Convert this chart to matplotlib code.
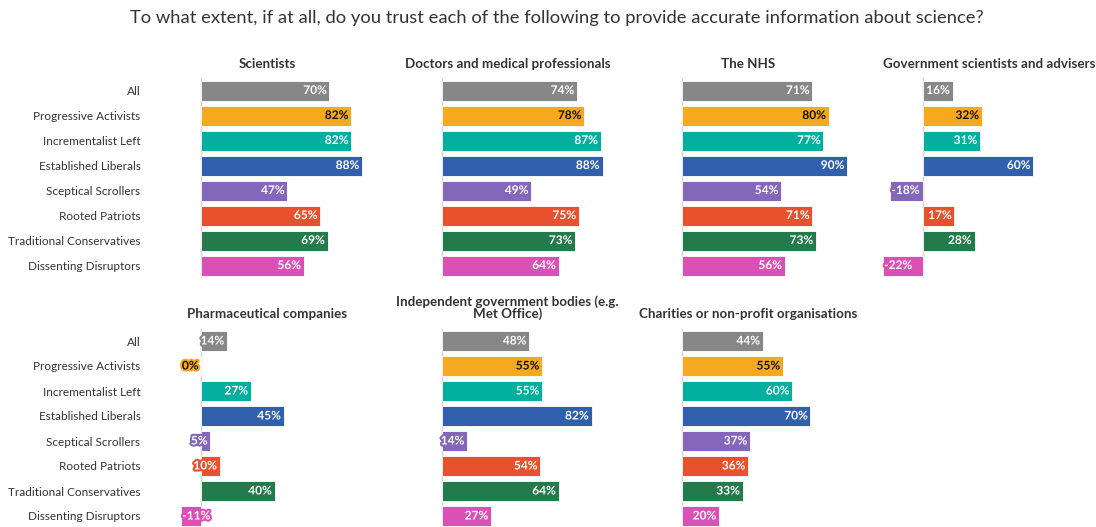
import matplotlib
matplotlib.use("Agg")
import matplotlib.pyplot as plt
import matplotlib.patheffects as pe
from matplotlib.transforms import blended_transform_factory

plt.rcParams['font.family'] = ['Lato', 'DejaVu Sans']

groups = ["All", "Progressive Activists", "Incrementalist Left", "Established Liberals",
          "Sceptical Scrollers", "Rooted Patriots", "Traditional Conservatives",
          "Dissenting Disruptors"]
colors = ["#878787", "#F6A81F", "#03AF9E", "#2F5FAD", "#8466BA", "#E8502E",
          "#237A4A", "#DB50B5"]
text_colors = ["white", "#111111", "white", "white", "white", "white", "white", "white"]

scientists = [70, 82, 82, 88, 47, 65, 69, 56]
doctors = [74, 78, 87, 88, 49, 75, 73, 64]
nhs = [71, 80, 77, 90, 54, 71, 73, 56]
government = [16, 32, 31, 60, -18, 17, 28, -22]
pharma = [14, 0, 27, 45, 5, 10, 40, -11]
independent = [48, 55, 55, 82, 14, 54, 64, 27]
charities = [44, 55, 60, 70, 37, 36, 33, 20]

panels = [
    ("Scientists", scientists),
    ("Doctors and medical professionals", doctors),
    ("The NHS", nhs),
    ("Government scientists and advisers", government),
    ("Pharmaceutical companies", pharma),
    ("Independent government bodies (e.g.\nMet Office)", independent),
    ("Charities or non-profit organisations", charities),
]

title = "To what extent, if at all, do you trust each of the following to provide accurate information about science?"

W, H = 1096, 527
fig = plt.figure(figsize=(W / 100, H / 100), dpi=100)
fig.patch.set_facecolor("white")

scale = 1.83          # pixels per percentage point
row_px = 25           # pixels per group row
zero_x = [201.3, 441.5, 682.3, 923.3]
first_bar_y = [90.5, 341]
xmin, xmax = -24, 100


def px_axes(left, top, width, height):
    return fig.add_axes([left / W, 1 - (top + height) / H, width / W, height / H])


for idx, (name, vals) in enumerate(panels):
    row, col = divmod(idx, 4)
    left = zero_x[col] + xmin * scale
    width = (xmax - xmin) * scale
    top = first_bar_y[row] - row_px / 2
    ax = px_axes(left, top, width, row_px * len(groups))
    ax.set_xlim(xmin, xmax)
    ax.set_ylim(len(groups) - 0.5, -0.5)
    ax.set_facecolor("none")
    for s in ax.spines.values():
        s.set_visible(False)
    ax.axvline(0, color="#cfcfcf", lw=1.0, zorder=1)
    ys = list(range(len(groups)))
    ax.barh(ys, vals, height=0.8, color=colors, edgecolor="white", linewidth=0.6, zorder=2)

    for y, v, c, tc in zip(ys, vals, colors, text_colors):
        right = v >= 0
        ax.annotate(f"{v}%", xy=(v, y), xytext=(-2 if right else 0.8, 0),
                    textcoords="offset points", ha="right" if right else "left",
                    va="center", fontsize=8.6, fontweight="bold", color=tc,
                    path_effects=[pe.withStroke(linewidth=3, foreground=c)], zorder=3)

    ax.set_xticks([])
    if col == 0:
        ax.set_yticks(ys)
        ax.set_yticklabels(groups, fontsize=8.5, color="#333333")
        # labels sit well clear of the zero line
        gap_pts = (left + 0 - 140.5) * 72 / 100
        ax.tick_params(axis="y", length=0, pad=gap_pts)
    else:
        ax.set_yticks([])

    trans = blended_transform_factory(ax.transData, ax.transAxes)
    ax.text(36, 1.0 + 8 / (row_px * len(groups)), name, transform=trans, ha="center",
            va="bottom", fontsize=9.6, fontweight="bold", color="#333333",
            linespacing=0.95)

fig.text(0.508, 1 - 18 / H, title, ha="center", va="center", fontsize=13.2, color="#333333")

fig.savefig("out.png", dpi=100, facecolor="white")
